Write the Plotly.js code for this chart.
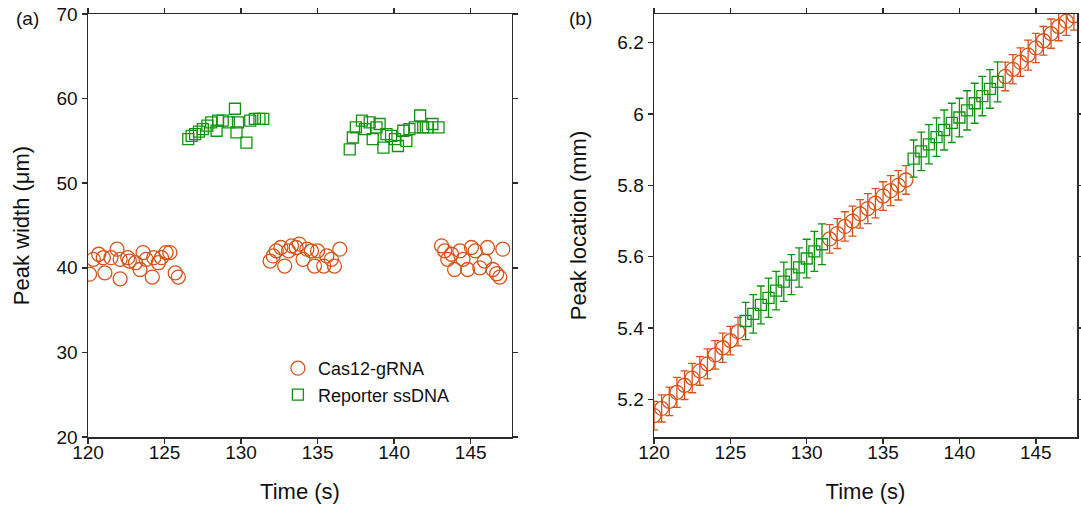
<!DOCTYPE html>
<html>
<head>
<meta charset="utf-8">
<script src="https://cdn.plot.ly/plotly-3.0.1.min.js"></script>
<style>html,body{margin:0;padding:0;background:#fff;} #chart{width:1081px;height:514px;}</style>
</head>
<body>
<div id="chart"></div>
<script>
// ---- Panel (a): peak width ----
const widthCasT = [120.1,120.35,120.7,121.0,121.1,121.5,121.9,122.1,122.1,122.6,122.7,123.1,123.4,123.6,123.8,124.2,124.3,124.6,124.8,125.1,125.35,125.7,125.9,
                   131.9,132.1,132.3,132.6,132.85,133.1,133.3,133.6,133.8,134.05,134.3,134.6,134.8,135.0,135.4,135.6,135.9,136.1,136.45,
                   143.1,143.3,143.5,143.75,143.95,144.3,144.5,144.8,145.05,145.3,145.6,145.9,146.1,146.45,146.7,146.9,147.1];
const widthCasW = [39.25,41.0,41.6,41.2,39.4,41.2,42.2,38.7,41.0,41.2,40.8,40.6,39.8,41.8,41.0,38.9,41.2,40.6,41.2,41.8,41.8,39.4,38.9,
                   40.8,41.4,42.0,42.4,40.2,42.0,42.6,42.4,42.8,41.0,42.2,42.0,40.2,42.0,40.2,41.4,41.0,40.2,42.2,
                   42.6,42.0,41.0,41.6,39.8,42.0,41.0,39.8,42.4,42.0,40.0,40.8,42.4,39.8,39.3,38.9,42.2];
const widthRepT = [126.55,126.77,127.0,127.25,127.5,127.8,128.05,128.4,128.5,128.8,129.2,129.6,129.7,129.8,130.35,130.6,130.9,131.2,131.45,
                   137.1,137.3,137.5,137.9,138.1,138.4,138.6,138.85,139.05,139.3,139.5,139.8,140.05,140.25,140.6,140.8,141.0,141.35,141.7,141.9,142.2,142.5,142.9];
const widthRepW = [55.2,55.6,55.8,56.1,56.4,56.8,57.2,56.2,57.4,57.4,57.2,58.8,56.0,57.2,54.8,57.4,57.6,57.6,57.6,
                   54.0,55.4,56.6,57.4,56.4,57.2,55.2,56.6,57.0,54.2,55.8,55.6,55.2,54.4,56.2,55.0,56.4,56.6,58.0,56.6,56.6,57.0,56.6];

// ---- Panel (b): peak location ----
const locCasT = [120,120.5,121,121.5,122,122.5,123,123.5,124,124.5,125,125.5,
                 131.5,132,132.5,133,133.5,134,134.5,135,135.5,136,136.5,
                 143,143.5,144,144.5,145,145.5,146,146.5,147,147.5];
const locCasY = [5.155,5.175,5.195,5.22,5.24,5.26,5.28,5.30,5.325,5.345,5.365,5.39,
                 5.65,5.665,5.685,5.70,5.72,5.735,5.75,5.77,5.785,5.80,5.815,
                 6.105,6.125,6.145,6.165,6.185,6.205,6.225,6.245,6.26,6.275];
const locCasErr = [0.040,0.038,0.040,0.042,0.040,0.041,0.040,0.042,0.040,0.041,0.040,0.040,
                   0.040,0.042,0.041,0.042,0.040,0.042,0.041,0.040,0.042,0.041,0.040,
                   0.040,0.041,0.040,0.042,0.041,0.040,0.041,0.040,0.040,0.040];
const locRepT = [126,126.5,127,127.5,128,128.5,129,129.5,130,130.5,131,
                 137,137.5,138,138.5,139,139.5,140,140.5,141,141.5,142,142.5];
const locRepY = [5.42,5.44,5.465,5.485,5.505,5.53,5.55,5.57,5.595,5.615,5.635,
                 5.875,5.895,5.915,5.935,5.955,5.975,5.99,6.01,6.03,6.05,6.07,6.09];
const locRepErr = [0.052,0.054,0.053,0.055,0.054,0.055,0.056,0.055,0.054,0.056,0.057,
                   0.052,0.054,0.055,0.054,0.056,0.055,0.054,0.055,0.056,0.055,0.054,0.056];

const ORANGE = '#D95319';
const GREEN = '#10930f';
const FONT = 'Liberation Sans, Arial, Helvetica, sans-serif';
const AXCOL = '#2b2b2b';
const TITLEFONT = {family: FONT, size: 22, color: '#111'};

const traces = [
  {x: widthCasT, y: widthCasW, type: 'scatter', mode: 'markers', name: 'Cas12-gRNA',
   xaxis: 'x', yaxis: 'y',
   marker: {symbol: 'circle-open', size: 14, color: ORANGE, line: {width: 1.3, color: ORANGE}}},
  {x: widthRepT, y: widthRepW, type: 'scatter', mode: 'markers', name: 'Reporter ssDNA',
   xaxis: 'x', yaxis: 'y',
   marker: {symbol: 'square-open', size: 11, color: GREEN, line: {width: 1.3, color: GREEN}}},
  {x: locCasT, y: locCasY, type: 'scatter', mode: 'markers', name: 'Cas12-gRNA', showlegend: false,
   xaxis: 'x2', yaxis: 'y2',
   error_y: {type: 'data', array: locCasErr, visible: true, color: ORANGE, thickness: 1.3, width: 4},
   marker: {symbol: 'circle-open', size: 14, color: ORANGE, line: {width: 1.3, color: ORANGE}}},
  {x: locRepT, y: locRepY, type: 'scatter', mode: 'markers', name: 'Reporter ssDNA', showlegend: false,
   xaxis: 'x2', yaxis: 'y2',
   error_y: {type: 'data', array: locRepErr, visible: true, color: GREEN, thickness: 1.3, width: 4},
   marker: {symbol: 'square-open', size: 11, color: GREEN, line: {width: 1.3, color: GREEN}}}
];

const axBase = {
  showline: true, linecolor: AXCOL, linewidth: 1.5, mirror: 'ticks',
  ticks: 'outside', ticklen: 5, tickwidth: 1.5, tickcolor: AXCOL,
  showgrid: false, zeroline: false,
  tickfont: {family: FONT, size: 19, color: '#111'}
};

const layout = {
  width: 1081, height: 514,
  margin: {l: 88, r: 4, t: 14, b: 77},
  paper_bgcolor: '#ffffff', plot_bgcolor: '#ffffff',
  font: {family: FONT, color: '#111'},
  showlegend: true,
  legend: {x: 0.192, y: 0.2057, xanchor: 'left', yanchor: 'top', bgcolor: 'rgba(0,0,0,0)',
           font: {family: FONT, size: 18, color: '#111'}, tracegroupgap: 0},
  xaxis: Object.assign({}, axBase, {domain: [0, 0.4287], range: [120, 147.7], tickvals: [120,125,130,135,140,145],
          ticklabelstandoff: -7,
          title: {text: 'Time (s)', font: TITLEFONT, standoff: 21}}),
  yaxis: Object.assign({}, axBase, {domain: [0, 1], range: [20, 70], tickvals: [20,30,40,50,60,70],
          title: {text: 'Peak width (μm)', font: TITLEFONT, standoff: 21}}),
  xaxis2: Object.assign({}, axBase, {domain: [0.5723, 1], range: [120, 147.7], tickvals: [120,125,130,135,140,145],
          anchor: 'y2', ticklabelstandoff: -7,
          title: {text: 'Time (s)', font: TITLEFONT, standoff: 21}}),
  yaxis2: Object.assign({}, axBase, {domain: [0, 1], range: [5.095, 6.28], anchor: 'x2',
          tickvals: [5.2,5.4,5.6,5.8,6.0,6.2], ticktext: ['5.2','5.4','5.6','5.8','6','6.2'],
          title: {text: 'Peak location (mm)', font: TITLEFONT, standoff: 24}}),
  annotations: [
    {text: '(a)', xref: 'paper', yref: 'paper', x: -0.0748, y: 1.019, xanchor: 'left', yanchor: 'top', showarrow: false,
     font: {family: FONT, size: 19, color: '#111'}},
    {text: '(b)', xref: 'paper', yref: 'paper', x: 0.4843, y: 1.019, xanchor: 'left', yanchor: 'top', showarrow: false,
     font: {family: FONT, size: 19, color: '#111'}}
  ]
};

Plotly.newPlot('chart', traces, layout, {displayModeBar: false, staticPlot: true});
</script>
</body>
</html>
